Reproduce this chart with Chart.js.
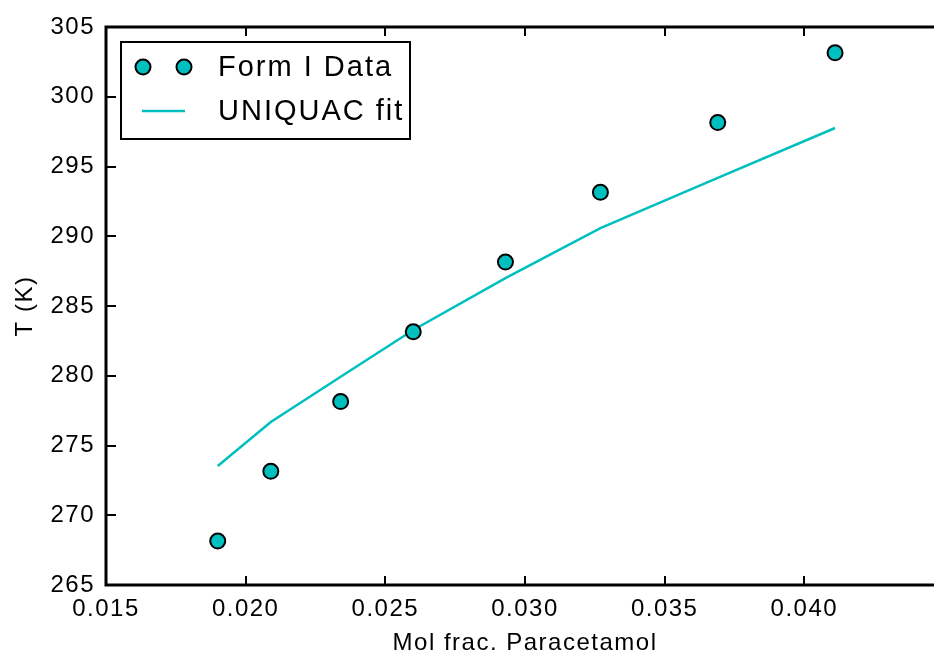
<!DOCTYPE html>
<html><head><meta charset="utf-8">
<script src="https://cdn.jsdelivr.net/npm/chart.js@4/dist/chart.umd.min.js"></script>
<style>html,body{margin:0;padding:0;background:#fff;overflow:hidden}#wrap{width:934px;height:655px;overflow:hidden;position:relative}canvas{display:block}</style>
</head><body>
<div id="wrap"><canvas id="c" width="944" height="655"></canvas></div>
<script>
const moleFraction = [0.0190, 0.0209, 0.0234, 0.0260, 0.0293, 0.0327, 0.0369, 0.0411];
const tempData = [268.15, 273.15, 278.15, 283.15, 288.15, 293.15, 298.15, 303.15];
const tempFit = [273.53, 276.68, 279.93, 283.28, 287.0, 290.59, 294.18, 297.76];
const seriesNames = ['Form I Data', 'UNIQUAC fit'];
const xTitle = 'Mol frac. Paracetamol';
const yTitle = 'T (K)';
const xTicks = [0.015, 0.020, 0.025, 0.030, 0.035, 0.040];
const yTicks = [265, 270, 275, 280, 285, 290, 295, 300, 305];

const TEAL = '#00BFBF';
const FONT = '"Liberation Sans", Arial, sans-serif';

function seg(ctx, x1, y1, x2, y2) { ctx.beginPath(); ctx.moveTo(x1, y1); ctx.lineTo(x2, y2); ctx.stroke(); }

const framePlugin = {
  id: 'frame',
  beforeDraw(chart) { chart.ctx.letterSpacing = '1.5px'; },
  afterDraw(chart) {
    const { ctx, chartArea: a, scales: { x, y } } = chart;
    ctx.save();
    ctx.strokeStyle = '#000';
    ctx.lineWidth = 2;
    x.ticks.forEach(t => {
      const px = Math.round(x.getPixelForValue(t.value));
      seg(ctx, px, a.bottom, px, a.bottom - 9);
      seg(ctx, px, a.top, px, a.top + 9);
    });
    y.ticks.forEach(t => {
      const py = Math.round(y.getPixelForValue(t.value));
      seg(ctx, a.left, py, a.left + 10, py);
      seg(ctx, a.right, py, a.right - 10, py);
    });
    ctx.lineWidth = 3;
    ctx.strokeRect(a.left, a.top, a.right - a.left, a.bottom - a.top);

    // legend
    const lx = a.left + 15, ly = a.top + 15, lw = 289, lh = 97;
    ctx.fillStyle = '#fff';
    ctx.fillRect(lx, ly, lw, lh);
    ctx.lineWidth = 2;
    ctx.strokeRect(lx, ly, lw, lh);
    const r1 = ly + 25, r2 = ly + 69;
    [lx + 22, lx + 63].forEach(cx => {
      ctx.beginPath(); ctx.arc(cx, r1, 7.5, 0, Math.PI * 2);
      ctx.fillStyle = TEAL; ctx.fill();
      ctx.lineWidth = 2; ctx.strokeStyle = '#000'; ctx.stroke();
    });
    ctx.strokeStyle = TEAL; ctx.lineWidth = 2.5;
    seg(ctx, lx + 21, r2, lx + 64, r2);
    ctx.fillStyle = '#000';
    ctx.font = '29px ' + FONT;
    ctx.letterSpacing = '2px';
    ctx.textAlign = 'left'; ctx.textBaseline = 'middle';
    ctx.fillText(chart.data.datasets[0].label, lx + 97, r1 + 1);
    ctx.fillText(chart.data.datasets[1].label, lx + 97, r2 + 1);
    ctx.restore();
  }
};

new Chart(document.getElementById('c'), {
  type: 'scatter',
  data: {
    datasets: [
      {
        label: seriesNames[0],
        data: moleFraction.map((v, i) => ({ x: v, y: tempData[i] })),
        showLine: false,
        pointRadius: 7.5,
        pointBackgroundColor: TEAL,
        pointBorderColor: '#000',
        pointBorderWidth: 2,
        pointHoverRadius: 7.5
      },
      {
        label: seriesNames[1],
        data: moleFraction.map((v, i) => ({ x: v, y: tempFit[i] })),
        showLine: true,
        borderColor: TEAL,
        borderWidth: 2.5,
        pointRadius: 0,
        fill: false
      }
    ]
  },
  options: {
    responsive: false,
    animation: false,
    devicePixelRatio: 1,
    layout: { autoPadding: false, padding: { left: 0, top: 27, right: 0, bottom: 0 } },
    plugins: { legend: { display: false }, tooltip: { enabled: false } },
    scales: {
      x: {
        type: 'linear', min: 0.015, max: 0.045,
        afterBuildTicks: s => { s.ticks = xTicks.map(v => ({ value: v })); },
        afterFit: s => { s.height = 70; s.paddingRight = 0; s.paddingLeft = 0; },
        grid: { display: false, drawTicks: false },
        border: { display: false },
        ticks: { color: '#000', font: { family: FONT, size: 24 }, padding: 10, maxRotation: 0, autoSkip: false,
                 callback: v => Number(v).toFixed(3) },
        title: { display: true, text: xTitle, color: '#000', font: { family: FONT, size: 24, lineHeight: 1 }, padding: { top: 0, bottom: 0 } }
      },
      y: {
        type: 'linear', min: 265, max: 305,
        afterBuildTicks: s => { s.ticks = yTicks.map(v => ({ value: v })); },
        afterFit: s => { s.width = 106; },
        grid: { display: false, drawTicks: false },
        border: { display: false },
        ticks: { color: '#000', font: { family: FONT, size: 24 }, padding: 11, autoSkip: false,
                 callback: v => String(v) },
        title: { display: true, text: yTitle, color: '#000', font: { family: FONT, size: 24, lineHeight: 1.2 }, padding: { top: 10.6, bottom: 0 } }
      }
    }
  },
  plugins: [framePlugin]
});
</script>
</body></html>
